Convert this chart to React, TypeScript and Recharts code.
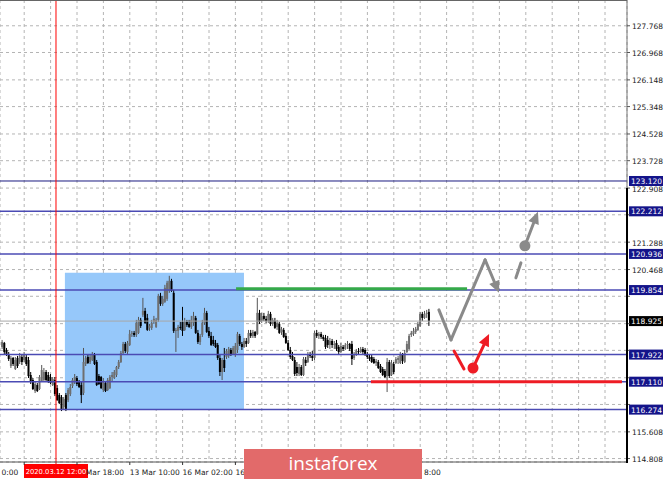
import React from 'react';
import {
  ComposedChart,
  Bar,
  XAxis,
  YAxis,
  CartesianGrid,
  ReferenceLine,
  ReferenceArea,
  ReferenceDot,
} from 'recharts';

// hourly bars, oldest first
const opens = [
  118.15, 118.27, 118.06, 117.94, 117.58, 117.82, 117.49, 117.82, 117.70, 117.85,
  117.76, 117.85, 117.76, 117.31, 117.16, 116.83, 117.01, 116.89, 117.13, 117.16,
  117.40, 117.31, 117.25, 117.01, 117.16, 116.92, 116.71, 116.65, 116.35, 116.71,
  116.56, 116.74, 116.98, 117.10, 117.22, 117.10, 117.01, 116.77, 117.64, 117.85,
  117.70, 117.76, 117.91, 117.70, 117.28, 117.25, 116.86, 117.07, 116.86, 116.92,
  117.25, 117.22, 117.31, 117.55, 117.70, 117.97, 118.24, 118.00, 118.21, 118.54,
  118.57, 118.51, 118.57, 118.96, 119.11, 119.23, 119.02, 118.72, 118.72, 118.90,
  118.75, 118.96, 119.68, 119.44, 119.50, 119.59, 119.83, 120.13, 119.77, 118.63,
  118.63, 118.75, 118.90, 118.66, 118.90, 118.84, 118.75, 118.87, 119.02, 118.57,
  118.30, 118.51, 118.87, 119.17, 118.63, 118.48, 118.36, 118.27, 118.21, 117.82,
  117.40, 117.76, 117.85, 117.88, 118.06, 117.94, 117.91, 118.06, 118.48, 118.24,
  118.15, 118.33, 118.27, 118.57, 118.48, 118.60, 118.54, 119.17, 118.93, 119.08,
  118.99, 118.93, 119.14, 118.84, 118.93, 118.75, 118.84, 118.60, 118.66, 118.48,
  118.27, 118.06, 117.88, 117.76, 117.55, 117.34, 117.55, 117.31, 117.76, 117.70,
  117.91, 117.88, 117.82, 118.57, 118.48, 118.54, 118.45, 118.42, 118.36, 118.21,
  118.33, 118.21, 118.27, 118.15, 118.00, 118.15, 118.09, 118.21, 118.24, 118.24,
  117.82, 117.94, 118.03, 118.00, 118.09, 118.06, 117.91, 117.85, 117.85, 117.79,
  117.67, 117.70, 117.58, 117.49, 117.43, 117.28, 117.70, 117.31, 117.64, 117.67,
  117.76, 117.67, 117.91, 117.70, 118.00, 118.09, 118.51, 118.54, 118.60, 118.66,
  118.78, 119.14, 119.02, 119.14, 119.20,
];
const highs = [
  118.36, 118.30, 118.12, 118.00, 117.88, 117.85, 117.85, 117.88, 117.97, 117.94,
  118.00, 117.91, 117.85, 117.40, 117.22, 117.13, 117.07, 117.31, 117.61, 117.52,
  117.46, 117.40, 117.34, 117.25, 117.25, 117.01, 116.77, 116.71, 116.65, 116.77,
  116.92, 117.04, 117.22, 117.34, 117.28, 117.16, 117.10, 118.12, 117.88, 117.91,
  117.91, 118.00, 117.97, 117.76, 117.34, 117.28, 117.22, 117.13, 117.22, 117.31,
  117.40, 117.46, 117.58, 117.76, 118.03, 118.30, 118.30, 118.33, 118.66, 118.63,
  118.63, 118.96, 119.05, 119.02, 119.62, 119.32, 119.14, 118.84, 118.96, 119.08,
  119.02, 119.74, 119.77, 119.68, 120.01, 120.13, 120.28, 120.19, 119.86, 118.72,
  118.81, 118.90, 119.35, 119.02, 118.96, 118.96, 119.08, 119.20, 119.08, 118.66,
  118.54, 118.96, 119.32, 119.23, 118.75, 118.60, 118.48, 118.36, 118.27, 117.91,
  117.82, 118.12, 118.09, 118.15, 118.12, 118.18, 118.27, 118.60, 118.54, 118.30,
  118.42, 118.42, 118.66, 118.66, 118.66, 118.63, 119.62, 119.26, 119.17, 119.17,
  119.08, 119.23, 119.20, 119.02, 119.02, 118.96, 118.90, 118.75, 118.72, 118.57,
  118.36, 118.15, 118.00, 117.85, 117.70, 117.64, 117.61, 117.85, 117.85, 118.00,
  118.00, 118.03, 118.63, 118.66, 118.60, 118.60, 118.51, 118.51, 118.48, 118.42,
  118.39, 118.33, 118.36, 118.21, 118.27, 118.21, 118.27, 118.33, 118.27, 118.33,
  118.00, 118.09, 118.12, 118.15, 118.15, 118.12, 118.00, 117.94, 117.91, 117.85,
  117.79, 117.76, 117.64, 117.55, 117.49, 117.82, 117.76, 117.76, 117.70, 117.85,
  117.88, 118.00, 117.97, 118.06, 118.33, 118.54, 118.63, 118.72, 118.75, 118.90,
  119.20, 119.20, 119.23, 119.26, 119.29,
];
const lows = [
  118.09, 117.94, 117.88, 117.73, 117.52, 117.58, 117.46, 117.52, 117.64, 117.61,
  117.70, 117.58, 117.22, 117.04, 116.86, 116.77, 116.80, 116.86, 117.10, 117.13,
  117.13, 117.07, 117.04, 116.98, 116.68, 116.53, 116.44, 116.23, 116.29, 116.23,
  116.50, 116.68, 116.92, 117.04, 116.98, 116.92, 116.47, 116.71, 117.58, 117.64,
  117.64, 117.73, 117.61, 116.98, 117.01, 116.89, 116.80, 116.80, 116.83, 116.89,
  117.10, 117.19, 117.25, 117.49, 117.67, 117.91, 117.97, 117.94, 118.18, 118.45,
  118.45, 118.45, 118.54, 118.72, 119.05, 118.84, 118.63, 118.63, 118.66, 118.84,
  118.72, 118.90, 119.38, 119.38, 119.47, 119.53, 119.77, 119.80, 118.57, 118.00,
  118.42, 118.66, 118.48, 118.63, 118.75, 118.72, 118.69, 118.78, 118.54, 118.24,
  118.21, 118.45, 118.81, 118.57, 118.42, 118.18, 118.18, 118.12, 117.76, 117.28,
  117.16, 117.40, 117.79, 117.82, 117.88, 117.91, 117.85, 117.97, 118.18, 118.06,
  118.12, 118.15, 118.24, 118.42, 118.42, 118.42, 118.51, 118.84, 118.87, 118.93,
  118.87, 118.87, 118.78, 118.78, 118.69, 118.66, 118.54, 118.51, 118.42, 118.24,
  118.03, 117.79, 117.73, 117.28, 117.28, 117.28, 117.28, 117.28, 117.58, 117.67,
  117.82, 117.73, 117.76, 118.42, 118.39, 118.39, 118.33, 118.09, 118.12, 118.09,
  118.12, 118.09, 118.03, 117.94, 117.97, 118.03, 118.06, 118.09, 118.03, 117.61,
  117.76, 117.88, 117.94, 117.97, 117.94, 117.88, 117.79, 117.73, 117.67, 117.64,
  117.58, 117.49, 117.37, 117.28, 117.22, 116.80, 117.22, 117.28, 117.34, 117.64,
  117.64, 117.64, 117.64, 117.67, 117.97, 118.06, 118.45, 118.48, 118.54, 118.63,
  118.75, 118.93, 118.99, 119.02, 118.78,
];
const closes = [
  118.30, 118.00, 117.91, 117.79, 117.82, 117.64, 117.76, 117.58, 117.88, 117.70,
  117.94, 117.64, 117.28, 117.10, 116.89, 117.04, 116.83, 117.25, 117.46, 117.40,
  117.16, 117.13, 117.07, 117.19, 116.74, 116.56, 116.47, 116.26, 116.59, 116.26,
  116.86, 116.95, 117.16, 117.25, 117.04, 116.95, 116.71, 117.70, 117.82, 117.67,
  117.85, 117.94, 117.64, 117.01, 117.04, 116.92, 117.13, 116.83, 117.16, 117.25,
  117.31, 117.40, 117.55, 117.70, 117.97, 118.24, 118.03, 118.27, 118.54, 118.57,
  118.51, 118.87, 118.96, 118.78, 119.23, 118.87, 118.66, 118.78, 118.87, 118.99,
  118.96, 119.68, 119.44, 119.59, 119.92, 120.07, 120.13, 119.83, 118.63, 118.66,
  118.75, 118.72, 118.63, 118.90, 118.81, 118.75, 118.96, 119.08, 118.57, 118.30,
  118.48, 118.87, 119.17, 118.60, 118.48, 118.21, 118.24, 118.15, 117.82, 117.40,
  117.76, 117.52, 118.03, 118.09, 117.94, 118.12, 118.18, 118.54, 118.24, 118.15,
  118.33, 118.24, 118.57, 118.48, 118.60, 118.48, 119.17, 118.90, 119.08, 118.99,
  118.93, 119.14, 118.84, 118.96, 118.72, 118.87, 118.57, 118.69, 118.45, 118.27,
  118.06, 117.85, 117.76, 117.34, 117.37, 117.55, 117.31, 117.79, 117.67, 117.91,
  117.88, 117.82, 118.57, 118.48, 118.54, 118.45, 118.39, 118.15, 118.21, 118.33,
  118.21, 118.24, 118.09, 118.00, 118.18, 118.09, 118.21, 118.24, 118.09, 117.79,
  117.94, 118.03, 118.00, 118.09, 118.00, 117.91, 117.85, 117.79, 117.70, 117.67,
  117.73, 117.52, 117.40, 117.31, 117.25, 117.70, 117.28, 117.67, 117.40, 117.79,
  117.82, 117.94, 117.73, 117.97, 118.24, 118.48, 118.57, 118.63, 118.69, 118.84,
  119.14, 119.02, 119.14, 119.17, 118.925,
];

// price scale
const priceTicks = [
  114.808, 115.608, 116.428, 117.228, 118.048, 118.848, 119.668, 120.468, 121.288,
  122.108, 122.908, 123.728, 124.528, 125.348, 126.148, 126.968, 127.768,
];
// tick labels that sit under a level tag are not printed
const hiddenPriceLabels = [116.428, 117.228, 118.048, 118.848, 119.668, 122.108];
const levels = [123.12, 122.212, 120.936, 119.854, 117.922, 117.11, 116.274];
const lastPrice = 118.925;

// time scale (bar index)
const gridTicks = [
  -14, -2, 10, 22, 34, 46, 58, 70, 82, 94, 106, 118, 130, 142, 154, 166, 178, 190,
  202, 214, 226, 238, 250, 262, 274,
];
const labelTicks = [-14, 10, 34, 58, 82, 106, 130, 154, 178];
// visible part of each time label (the rest is covered by the cursor tag / banner)
const timeLabels = ['0:00', '', 'Mar 18:00', '13 Mar 10:00', '16 Mar 02:00', '16', '', '', '8:00'];
const labelIsTail = [true, false, true, false, false, false, false, false, true];
const cursorBar = 24.45;
const cursorLabel = '2020.03.12 12:00';

// drawn objects
const zone = { from: 28.5, to: 109.9, top: 120.37, bottom: 116.26 };
const greenLine = { from: 106.3, to: 211.3, price: 119.89 };
const redLine = { from: 167.6, to: 281.7, price: 117.11 };
const grayPath = [
  { x: 198.5, y: 119.26 },
  { x: 204, y: 118.36 },
  { x: 219.5, y: 120.76 },
  { x: 225.8, y: 119.77 },
];
const grayDash = [{ x: 233.5, y: 120.22 }, { x: 235.8, y: 120.67 }];
const grayDot = { x: 237.6, y: 121.18 };
const grayArrowEnd = { x: 243.5, y: 122.2 };
const redDash = [{ x: 205.4, y: 118.03 }, { x: 209.9, y: 117.49 }];
const redDot = { x: 214, y: 117.52 };
const redArrowEnd = { x: 221.3, y: 118.54 };

const data = opens.map((o, i) => ({
  i,
  o,
  h: highs[i],
  l: lows[i],
  c: closes[i],
  range: [lows[i], highs[i]],
}));

const FONT = '"DejaVu Sans", sans-serif';
const GRAY = '#8a8a8a';
const RED = '#ee1c25';
const LEVEL = '#4b4bb4';

function Candle(props: any) {
  const { x, y, width, height, payload } = props;
  const { o, h, l, c } = payload;
  const k = h - l > 0 ? height / (h - l) : 0;
  const top = y + (h - Math.max(o, c)) * k;
  const bot = y + (h - Math.min(o, c)) * k;
  const cx = x + width / 2;
  const up = c >= o;
  return (
    <g>
      <line x1={cx} x2={cx} y1={y} y2={y + height} stroke={up ? '#555' : '#000'} strokeWidth={1} />
      <rect x={x} y={top} width={width} height={Math.max(1, bot - top)} fill={up ? '#6f6f6f' : '#000'} />
    </g>
  );
}

function segShape(color: string, width: number, head: boolean, dash?: string) {
  return (p: any) => {
    const { x1, y1, x2, y2 } = p;
    if (!head) {
      return (
        <line x1={x1} y1={y1} x2={x2} y2={y2} stroke={color} strokeWidth={width}
          strokeLinecap="round" strokeDasharray={dash} />
      );
    }
    const a = Math.atan2(y2 - y1, x2 - x1);
    const L = 12;
    const hw = 5.5;
    const bx = x2 - L * Math.cos(a);
    const by = y2 - L * Math.sin(a);
    const pts = `${x2},${y2} ${bx + hw * Math.sin(a)},${by - hw * Math.cos(a)} ${bx - hw * Math.sin(a)},${by + hw * Math.cos(a)}`;
    return (
      <g>
        <line x1={x1} y1={y1} x2={bx} y2={by} stroke={color} strokeWidth={width} strokeLinecap="round" />
        <polygon points={pts} fill={color} />
      </g>
    );
  };
}

function levelLabel(text: string, bg: string) {
  return (props: any) => {
    const vb = props.viewBox;
    const x = vb.x + vb.width + 2;
    return (
      <g>
        <rect x={x} y={vb.y - 5} width={34} height={10} fill={bg} />
        <text x={x + 2} y={vb.y + 3} fontSize={7.5} fontFamily={FONT} fill="#fff">
          {text}
        </text>
      </g>
    );
  };
}

function cursorTag(props: any) {
  const vb = props.viewBox;
  const x = vb.x;
  const y = vb.y + vb.height;
  return (
    <g>
      <line x1={x} x2={x} y1={y} y2={y + 2} stroke="#ff0000" />
      <rect x={x - 32} y={y + 2} width={64} height={14} fill="#ff0000" />
      <text x={x} y={y + 12} textAnchor="middle" fontSize={6.8} fontFamily={FONT} fill="#fff">
        {cursorLabel}
      </text>
    </g>
  );
}

function YTick(props: any) {
  const { x, y, payload } = props;
  if (hiddenPriceLabels.includes(payload.value)) return null;
  return (
    <text x={x} y={y + 3.5} fontSize={7.5} fontFamily={FONT} fill="#222">
      {payload.value.toFixed(3)}
    </text>
  );
}

function XTick(props: any) {
  const { x, y, payload } = props;
  const k = labelTicks.indexOf(payload.value);
  if (k < 0) return null;
  const tail = labelIsTail[k];
  return (
    <g>
      <line x1={x} x2={x} y1={y} y2={y + 3} stroke="#333" />
      {timeLabels[k] && (
        <text x={tail ? x + 47 : x} y={y + 13} textAnchor={tail ? 'end' : 'start'}
          fontSize={7.5} fontFamily={FONT} fill="#222">
          {timeLabels[k]}
        </text>
      )}
    </g>
  );
}

export default function App() {
  return (
    <div style={{ position: 'absolute', left: 0, top: 0, width: 665, height: 480, background: '#fff' }}>
      <ComposedChart width={665} height={480} data={data} margin={{ top: 0, right: 0, left: 0, bottom: 0 }}>
        <XAxis
          dataKey="i"
          type="number"
          domain={[-1, 284]}
          allowDataOverflow
          ticks={gridTicks}
          interval={0}
          height={18}
          tickSize={0}
          tickMargin={0}
          tick={XTick}
          axisLine={{ stroke: '#555' }}
        />
        <YAxis
          orientation="right"
          type="number"
          domain={[114.705, 128.54]}
          allowDataOverflow
          ticks={priceTicks}
          interval={0}
          width={38}
          tickSize={3}
          tickMargin={2}
          tick={YTick}
          tickLine={{ stroke: '#555' }}
          axisLine={{ stroke: '#777' }}
        />
        <ReferenceArea x1={zone.from} x2={zone.to} y1={zone.bottom} y2={zone.top}
          fill="#96c8fa" fillOpacity={1} stroke="none" />
        <CartesianGrid stroke="#b4b4b4" strokeDasharray="3 3" />
        <ReferenceLine y={lastPrice} stroke="#a8a8a8" strokeWidth={1}
          label={levelLabel(lastPrice.toFixed(3), '#000')} />
        {levels.map((v, k) => (
          <ReferenceLine key={v} y={v} stroke={k === 0 ? '#1a1a80' : LEVEL} strokeWidth={k === 0 ? 1 : 1.5}
            label={levelLabel(v.toFixed(3), '#14148a')} />
        ))}
        <ReferenceLine x={cursorBar} stroke="#ff0000" strokeWidth={1} label={cursorTag} />
        <Bar dataKey="range" barSize={2} shape={Candle} isAnimationActive={false} />
        <ReferenceLine segment={[{ x: greenLine.from, y: greenLine.price }, { x: greenLine.to, y: greenLine.price }]}
          stroke="#35a94a" strokeWidth={3} />
        <ReferenceLine segment={[{ x: redLine.from, y: redLine.price }, { x: redLine.to, y: redLine.price }]}
          stroke={RED} strokeWidth={3} />
        {grayPath.slice(1).map((p, k) => (
          <ReferenceLine key={'g' + k} segment={[grayPath[k], p]}
            shape={segShape(GRAY, 3, k === grayPath.length - 2)} />
        ))}
        <ReferenceLine segment={[grayDash[0], grayDash[1]]} shape={segShape(GRAY, 3, false)} />
        <ReferenceLine segment={[grayDot, grayArrowEnd]} shape={segShape(GRAY, 3, true)} />
        <ReferenceDot x={grayDot.x} y={grayDot.y} r={5.5} fill={GRAY} stroke="none" />
        <ReferenceLine segment={[redDash[0], redDash[1]]} shape={segShape(RED, 3, false)} />
        <ReferenceLine segment={[redDot, redArrowEnd]} shape={segShape(RED, 3, true)} />
        <ReferenceDot x={redDot.x} y={redDot.y} r={5.5} fill={RED} stroke="none" />
      </ComposedChart>
      <div style={{ position: 'absolute', left: 0, top: 0, width: 627, height: 1, background: '#666' }} />
      <div style={{ position: 'absolute', left: 626, top: 188, width: 2, height: 275, background: '#000' }} />
      <div
        style={{
          position: 'absolute',
          left: 244,
          top: 449,
          width: 178,
          height: 30,
          background: '#e26a6a',
          color: '#fff',
          fontFamily: '"Open Sans", sans-serif',
          fontSize: 19,
          lineHeight: '29px',
          textAlign: 'center',
        }}
      >
        instaforex
      </div>
    </div>
  );
}
